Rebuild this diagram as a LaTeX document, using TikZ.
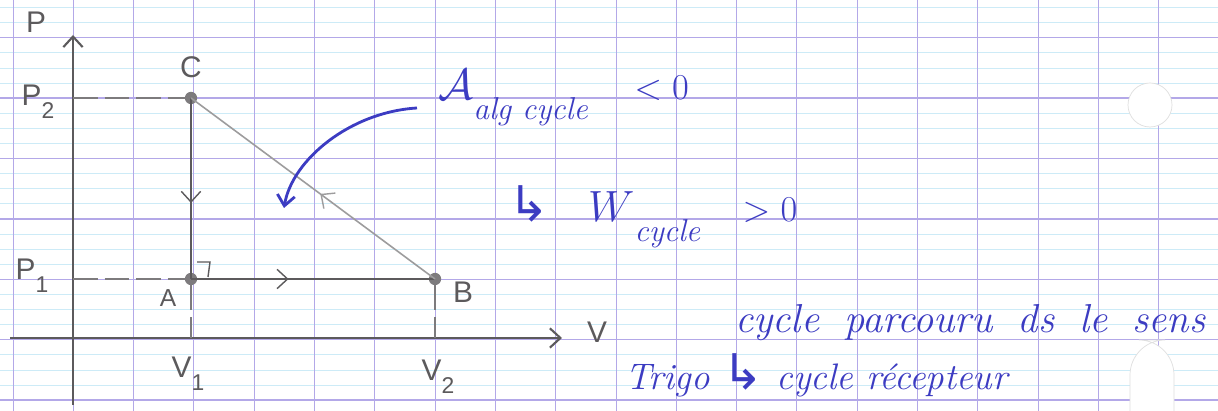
\documentclass[tikz,border=0pt]{standalone}
\usepackage{fontspec}
\newfontfamily\symfont{DejaVu Sans}
\newfontfamily\pencilfont{Liberation Sans}
\usetikzlibrary{arrows.meta,decorations.markings}
\definecolor{pencil}{HTML}{5C5A5C}
\definecolor{ink}{HTML}{3C3CC2}
\definecolor{seyes}{HTML}{B3A8E8}
\definecolor{seyesthin}{HTML}{CDEBF7}
\newcommand{\lowsub}[1]{\raisebox{-0.45em}{\fontsize{13}{13}\selectfont #1}}
\newcommand{\inksub}[1]{\raisebox{-0.5em}{\fontsize{18}{18}\selectfont #1}}
\newcommand{\hookarrow}{{\symfont\fontsize{28}{28}\selectfont\char"21B3}}
\tikzset{
  lbl/.style={text=pencil, font=\pencilfont\fontsize{17}{17}\selectfont, inner sep=0pt},
  inktext/.style={text=ink, font=\itshape\fontsize{22}{22}\selectfont, inner sep=0pt, anchor=base west},
  axis/.style={draw=pencil, line width=1.2pt, -{Straight Barb[length=6pt,width=11pt]}},
  guide/.style={draw=pencil!80, line width=0.7pt, dash pattern=on 14pt off 4pt},
  midarrow/.style={postaction={decorate}, decoration={markings,
      mark=at position #1 with {\arrow[line width=0.8pt]{Straight Barb[length=6pt,width=11pt]}}}},
  dot/.style={circle, fill=pencil!80, inner sep=0pt, minimum size=7pt}
}
\begin{document}
\begin{tikzpicture}[x=0.02cm, y=-0.02cm]
  \useasboundingbox (0,0) rectangle (1218,411);
  \clip (0,0) rectangle (1218,411);
  % paper
  \fill[white] (0,0) rectangle (1218,411);
  \foreach \k in {0,...,27}
    \draw[seyesthin, line width=0.4pt] (0,7.5+15.1*\k) -- (1218,7.5+15.1*\k);
  \foreach \k in {0,...,6}
    \draw[seyes, line width=0.7pt] (0,37.7+60.4*\k) -- (1218,37.7+60.4*\k);
  \foreach \k in {0,...,20}
    \draw[seyes, line width=0.5pt] (13+60.3*\k,0) -- (13+60.3*\k,411);
  % holes
  \fill[white, draw=gray!25] (1150,105) circle (22);
  \fill[white, draw=gray!25, rounded corners=20] (1130,340) rectangle (1174,460);

  % points of the cycle
  \coordinate (O) at (73,338);
  \coordinate (Ptop) at (73,35);
  \coordinate (Pbot) at (73,405);
  \coordinate (Vleft) at (10,338);
  \coordinate (Vright) at (562,338);
  \node[dot] (C) at (191,98) {};
  \node[dot] (A) at (191,279) {};
  \node[dot] (B) at (435,279) {};

  % axes
  \draw[axis] (Pbot) -- (Ptop);
  \draw[axis] (Vleft) -- (Vright);

  % guide lines
  \draw[guide] (Ptop |- C) -- (C);
  \draw[guide] (Ptop |- A) -- (A);
  \draw[guide] (A) -- (A |- O);
  \draw[guide] (B) -- (B |- O);

  % cycle
  \draw[pencil, line width=1pt, midarrow=0.58] (C.center) -- (A.center);
  \draw[pencil, line width=1.6pt, midarrow=0.4] (A.center) -- (B.center);
  \draw[pencil!60, line width=0.9pt, midarrow=0.47] (B.center) -- (C.center);
  \draw[pencil, line width=0.8pt] ([shift={(6,-17)}]A.center) -- ++(13,0) -- ++(-2,15);

  % labels
  \node[lbl] (Plab) at (36,22) {P};
  \node[lbl] (P2lab) at (38,102) {P\lowsub{2}};
  \node[lbl] (P1lab) at (32,276) {P\lowsub{1}};
  \node[lbl] (Clab) at (191,67) {C};
  \node[lbl, font=\pencilfont\fontsize{14}{14}\selectfont] (Alab) at (168,298) {A};
  \node[lbl] (Blab) at (463,292) {B};
  \node[lbl] (V1lab) at (188,374) {V\lowsub{1}};
  \node[lbl] (V2lab) at (438,377) {V\lowsub{2}};
  \node[lbl] (Vlab) at (597,332) {V};

  % ink notes
  \node[inktext] (area) at (438,100) {{\fontsize{28}{28}\selectfont$\mathcal{A}$}\inksub{alg cycle}\hspace{1.2em}$<0$};
  \node[inktext] (work) at (508,222) {\hookarrow\hspace{1em}{\fontsize{28}{28}\selectfont$W$}\inksub{cycle}\hspace{1.1em}$>0$};
  \node[inktext, font=\itshape\fontsize{23}{23}\selectfont] (sens) at (735,333)
    {cycle\hspace{0.62em}parcouru\hspace{0.62em}ds\hspace{0.62em}le\hspace{0.62em}sens};
  \node[inktext, font=\itshape\fontsize{21}{21}\selectfont] (trigo) at (625,390) {Trigo \hookarrow\ cycle récepteur};
  \coordinate (curvestart) at (417,108);
  \coordinate (curveend) at (284,208);
  \draw[ink, line width=1.6pt, -{Straight Barb[length=6pt,width=10pt]}]
    (curvestart) .. controls (350,112) and (292,160) .. (curveend);
\end{tikzpicture}
\end{document}
